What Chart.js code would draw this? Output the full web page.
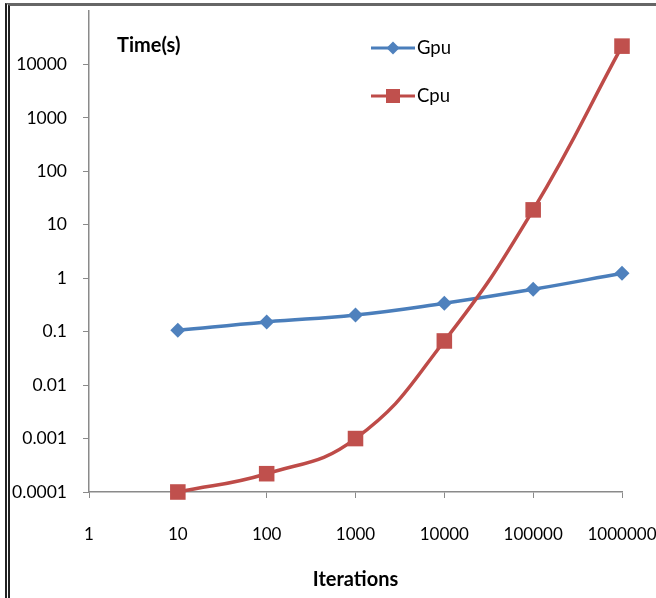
<!DOCTYPE html>
<html><head><meta charset="utf-8">
<script src="https://cdn.jsdelivr.net/npm/chart.js@4/dist/chart.umd.min.js"></script>
<style>
html,body{margin:0;padding:0;background:#fff;}
#wrap{position:relative;width:656px;height:598px;overflow:hidden;background:#fff;}
#c{position:absolute;left:0;top:0;}
#frame{position:absolute;left:5px;top:3px;width:700px;height:700px;border-left:5px double #222;border-top:3px solid #666;pointer-events:none;}
</style></head><body>
<div id="wrap"><canvas id="c" width="656" height="598"></canvas><div id="frame"></div></div>
<script>
const categories = ['1', '10', '100', '1000', '10000', '100000', '1000000'];
const gpuTimes = [null, 0.106, 0.152, 0.205, 0.34, 0.62, 1.24];
const cpuTimes = [null, 0.0001, 0.00022, 0.001, 0.067, 19, 22000];
const yTickValues = [0.0001, 0.001, 0.01, 0.1, 1, 10, 100, 1000, 10000];
const yTickLabels = ['0.0001', '0.001', '0.01', '0.1', '1', '10', '100', '1000', '10000'];
const seriesNames = ['Gpu', 'Cpu'];
const yAxisTitle = 'Time(s)';
const xAxisTitle = 'Iterations';

const BLUE = '#4A7EBB', BLUE_M = '#4F81BD';
const RED = '#BE4B48', RED_M = '#C0504D';
const FONT = 'Lato, "Open Sans", sans-serif';

const overlay = {
  id: 'overlay',
  afterDraw(chart) {
    const ctx = chart.ctx;
    const a = chart.chartArea;
    ctx.save();
    ctx.fillStyle = '#000';
    ctx.font = 'bold 20px ' + FONT;
    ctx.textAlign = 'left';
    ctx.textBaseline = 'middle';
    ctx.fillText(yAxisTitle, a.left + 28, a.top + 35);
    const lx0 = a.left + 282, lx1 = a.left + 326, mx = a.left + 304;
    const rows = [
      {name: seriesNames[0], y: a.top + 37, line: BLUE, fill: BLUE_M, shape: 'diamond'},
      {name: seriesNames[1], y: a.top + 85, line: RED, fill: RED_M, shape: 'square'}
    ];
    rows.forEach(r => {
      ctx.strokeStyle = r.line;
      ctx.lineWidth = 3;
      ctx.beginPath();
      ctx.moveTo(lx0, r.y); ctx.lineTo(lx1, r.y); ctx.stroke();
      ctx.fillStyle = r.fill;
      ctx.beginPath();
      if (r.shape === 'diamond') {
        const s = 6.5;
        ctx.moveTo(mx - s, r.y); ctx.lineTo(mx, r.y - s); ctx.lineTo(mx + s, r.y); ctx.lineTo(mx, r.y + s);
        ctx.closePath();
      } else {
        const s = 7;
        ctx.rect(mx - s, r.y - s, 2 * s, 2 * s);
      }
      ctx.fill();
      ctx.fillStyle = '#000';
      ctx.font = '18.5px ' + FONT;
      ctx.textAlign = 'left';
      ctx.textBaseline = 'middle';
      ctx.fillText(r.name, lx1 + 2, r.y);
    });
    ctx.restore();
  }
};

const gridOpts = {display: true, drawOnChartArea: false, drawTicks: true, tickLength: 6, color: '#8a8a8a', lineWidth: 1};
const borderOpts = {display: true, color: '#8a8a8a', width: 1.5};

new Chart(document.getElementById('c'), {
  type: 'line',
  data: {
    labels: categories,
    datasets: [
      {label: seriesNames[0], data: gpuTimes, borderColor: BLUE, backgroundColor: BLUE_M, borderWidth: 3.5,
       pointStyle: 'rectRot', pointRadius: 7.5, pointBorderWidth: 0, pointBackgroundColor: BLUE_M,
       tension: 0.45, clip: false, order: 1},
      {label: seriesNames[1], data: cpuTimes, borderColor: RED, backgroundColor: RED_M, borderWidth: 3.5,
       pointStyle: 'rect', pointRadius: 11, pointBorderWidth: 0, pointBackgroundColor: RED_M,
       tension: 0.45, clip: false, order: 0}
    ]
  },
  options: {
    responsive: false,
    animation: false,
    devicePixelRatio: 1,
    layout: {padding: {left: 0, right: 34, top: 8, bottom: 0}},
    plugins: {legend: {display: false}, tooltip: {enabled: false}},
    scales: {
      x: {
        type: 'category', offset: false,
        grid: gridOpts, border: borderOpts,
        ticks: {autoSkip: false, maxRotation: 0, minRotation: 0, padding: 26, color: '#000', font: {family: FONT, size: 17}},
        title: {display: true, text: xAxisTitle, color: '#000', font: {family: FONT, size: 20, weight: 'bold'}, padding: {top: 0, bottom: 6}},
        afterFit: s => { s.height = 106; s.paddingLeft = 0; s.paddingRight = 0; }
      },
      y: {
        type: 'logarithmic', min: 0.0001, max: 100000,
        grid: gridOpts, border: borderOpts,
        afterBuildTicks: s => { s.ticks = yTickValues.map(v => ({value: v})); },
        ticks: {autoSkip: false, padding: 16, color: '#000', font: {family: FONT, size: 17.5},
                callback: (v, i) => yTickLabels[i]},
        afterFit: s => { s.width = 89; s.paddingTop = 0; s.paddingBottom = 0; }
      }
    }
  },
  plugins: [overlay]
});
</script>
</body></html>
